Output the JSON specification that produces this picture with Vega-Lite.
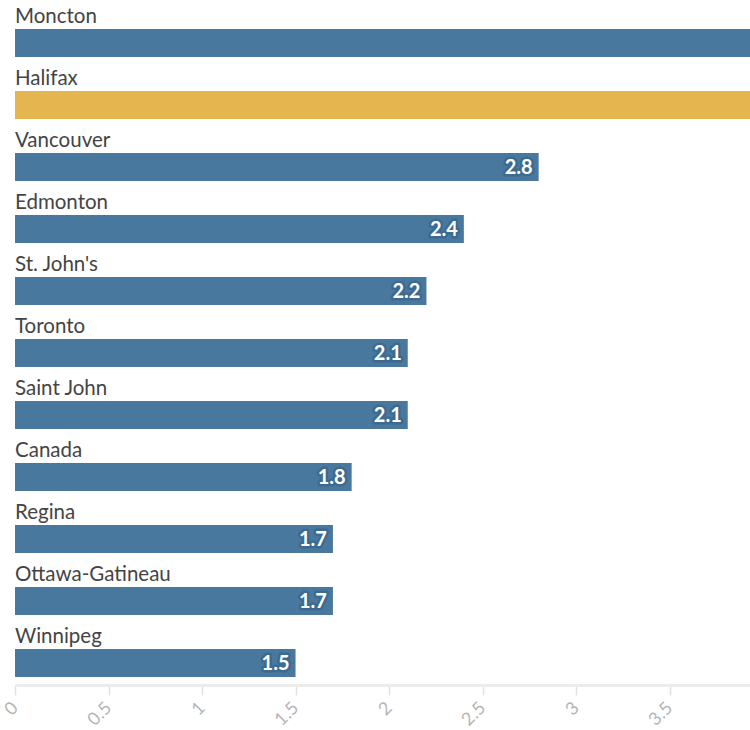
{
  "$schema": "https://vega.github.io/schema/vega-lite/v6.json",
  "width": 735,
  "height": 682,
  "autosize": {"type": "none"},
  "padding": {"left": 15, "top": 0, "right": 0, "bottom": 48},
  "background": "white",
  "config": {"view": {"stroke": null}, "font": "Lato"},
  "data": {"values": [
    {"city": "Moncton", "value": 5.2},
    {"city": "Halifax", "value": 4.4},
    {"city": "Vancouver", "value": 2.8},
    {"city": "Edmonton", "value": 2.4},
    {"city": "St. John's", "value": 2.2},
    {"city": "Toronto", "value": 2.1},
    {"city": "Saint John", "value": 2.1},
    {"city": "Canada", "value": 1.8},
    {"city": "Regina", "value": 1.7},
    {"city": "Ottawa-Gatineau", "value": 1.7},
    {"city": "Winnipeg", "value": 1.5}
  ]},
  "encoding": {
    "y": {"field": "city", "type": "nominal", "sort": null, "axis": null,
          "scale": {"paddingInner": 0, "paddingOuter": 0}},
    "x": {"field": "value", "type": "quantitative",
          "scale": {"domain": [0, 3.93], "nice": false, "clamp": false},
          "axis": {"values": [0, 0.5, 1, 1.5, 2, 2.5, 3, 3.5], "format": "~g", "title": null, "grid": false,
                   "labelAngle": -45, "labelAlign": "right", "labelBaseline": "middle",
                   "labelColor": "#b5b5b5", "labelFontSize": 18, "labelPadding": 10,
                   "tickColor": "#e0e0e0", "tickSize": 10, "tickWidth": 1.5,
                   "domainColor": "#ececec", "domainWidth": 3, "offset": 3,
                   "labelFlush": false, "labelOverlap": false}}
  },
  "layer": [
    {"mark": {"type": "bar", "height": 28, "yOffset": 12, "clip": true},
     "encoding": {
       "color": {"condition": {"test": "datum.city === 'Halifax'", "value": "#e5b550"}, "value": "#49789e"}
     }},
    {"mark": {"type": "text", "align": "left", "baseline": "middle", "yOffset": -14, "fontSize": 20.5, "color": "#444444"},
     "encoding": {"text": {"field": "city"}, "x": {"datum": 0}}},
    {"transform": [{"filter": "datum.value < 3.9"}],
     "mark": {"type": "text", "align": "right", "baseline": "middle", "yOffset": 13, "dx": -6, "fontSize": 20, "fontWeight": "bold",
              "stroke": "#3d6a90", "strokeWidth": 5, "strokeJoin": "round", "fill": "#3d6a90"},
     "encoding": {"text": {"field": "value", "format": ".1f"}}},
    {"transform": [{"filter": "datum.value < 3.9"}],
     "mark": {"type": "text", "align": "right", "baseline": "middle", "yOffset": 13, "dx": -6, "fontSize": 20, "fontWeight": "bold",
              "fill": "white"},
     "encoding": {"text": {"field": "value", "format": ".1f"}}}
  ]
}
